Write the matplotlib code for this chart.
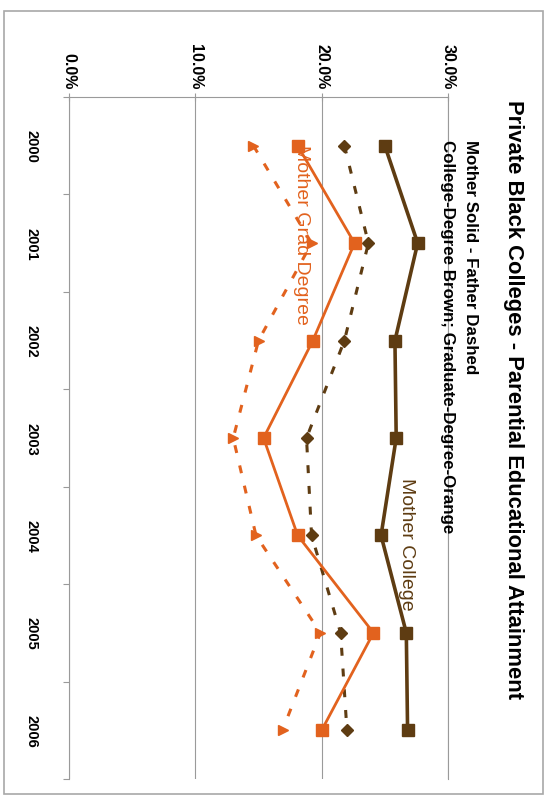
import matplotlib
matplotlib.use("Agg")
import matplotlib.pyplot as plt
from matplotlib.patches import Rectangle
import numpy as np

plt.rcParams["font.family"] = ["Liberation Sans", "DejaVu Sans"]

years = ["2000", "2001", "2002", "2003", "2004", "2005", "2006"]
mother_college = [25.0, 27.6, 25.8, 25.9, 24.7, 26.7, 26.8]
father_college = [21.8, 23.7, 21.8, 18.8, 19.2, 21.5, 22.0]
mother_grad = [18.1, 22.6, 19.3, 15.4, 18.1, 24.1, 20.0]
father_grad = [14.6, 19.2, 15.0, 13.0, 14.8, 19.9, 16.9]
value_ticks = [0, 10, 20, 30]

brown = "#5E3C12"
orange = "#E2621E"
grid_gray = "#9A9A9A"

W, H = 552, 803
fig = plt.figure(figsize=(W / 100, H / 100), dpi=100)
# chart is drawn turned a quarter turn clockwise: values run left->right, years top->bottom
ax = fig.add_axes([69 / W, 1 - 780 / H, (448 - 69) / W, (780 - 98) / H])

y = np.arange(len(years))
ax.plot(mother_college, y, color=brown, lw=2.6, marker="s", ms=8, zorder=4)
ax.plot(father_college, y, color=brown, lw=2.2, ls=(0, (2.6, 4.2)),
        marker="D", ms=6.5, zorder=4)
ax.plot(mother_grad, y, color=orange, lw=2.0, marker="s", ms=8, zorder=4)
ax.plot(father_grad, y, color=orange, lw=2.2, ls=(0, (2.6, 4.2)),
        marker=">", ms=7.5, zorder=4)

ax.set_xlim(0, 30)
ax.set_ylim(len(years) - 0.5, -0.5)

ax.xaxis.tick_top()
ax.set_xticks(value_ticks)
ax.set_xticklabels([f"{v:.1f}%" for v in value_ticks], rotation=-90,
                   fontsize=11.5, fontweight="bold", va="bottom", ha="center")
ax.tick_params(axis="x", direction="inout", length=6, width=0.8,
               color=grid_gray, pad=3)

ax.set_yticks(y)
ax.set_yticklabels(years, rotation=-90, fontsize=10.5, fontweight="bold",
                   va="center", ha="center")
ax.set_yticks(np.arange(len(years) + 1) - 0.5, minor=True)
ax.tick_params(axis="y", which="major", length=0, pad=27)
ax.tick_params(axis="y", which="minor", direction="out", length=4,
               width=0.8, color=grid_gray)

ax.grid(axis="x", color=grid_gray, lw=0.8)
ax.set_axisbelow(True)
for side in ["top", "left", "right"]:
    ax.spines[side].set_color(grid_gray)
    ax.spines[side].set_linewidth(0.8)
ax.spines["bottom"].set_visible(False)

ax.text(18.4, -0.02, "Mother Grad Degree", color=orange, fontsize=14,
        rotation=-90, ha="center", va="top", zorder=5)
ax.text(26.7, 3.4, "Mother College", color=brown, fontsize=14,
        rotation=-90, ha="center", va="top", zorder=5)

fig.text(513 / W, 1 - 100 / H,
         "Private Black Colleges - Parential Educational Attainment",
         rotation=-90, fontsize=15.8, fontweight="bold", ha="center", va="top")
fig.text(470 / W, 1 - 140 / H, "Mother Solid - Father Dashed",
         rotation=-90, fontsize=12.2, fontweight="bold", ha="center", va="top")
fig.text(447 / W, 1 - 140 / H, "College-Degree Brown; Graduate-Degree-Orange",
         rotation=-90, fontsize=12.2, fontweight="bold", ha="center", va="top")

fig.patches.append(Rectangle((4 / W, 1 - 795 / H), (543 - 4) / W, (795 - 12) / H,
                             transform=fig.transFigure, fill=False,
                             edgecolor="#A8A8A8", lw=1.2))

fig.savefig("out.png", dpi=100, facecolor="white")
